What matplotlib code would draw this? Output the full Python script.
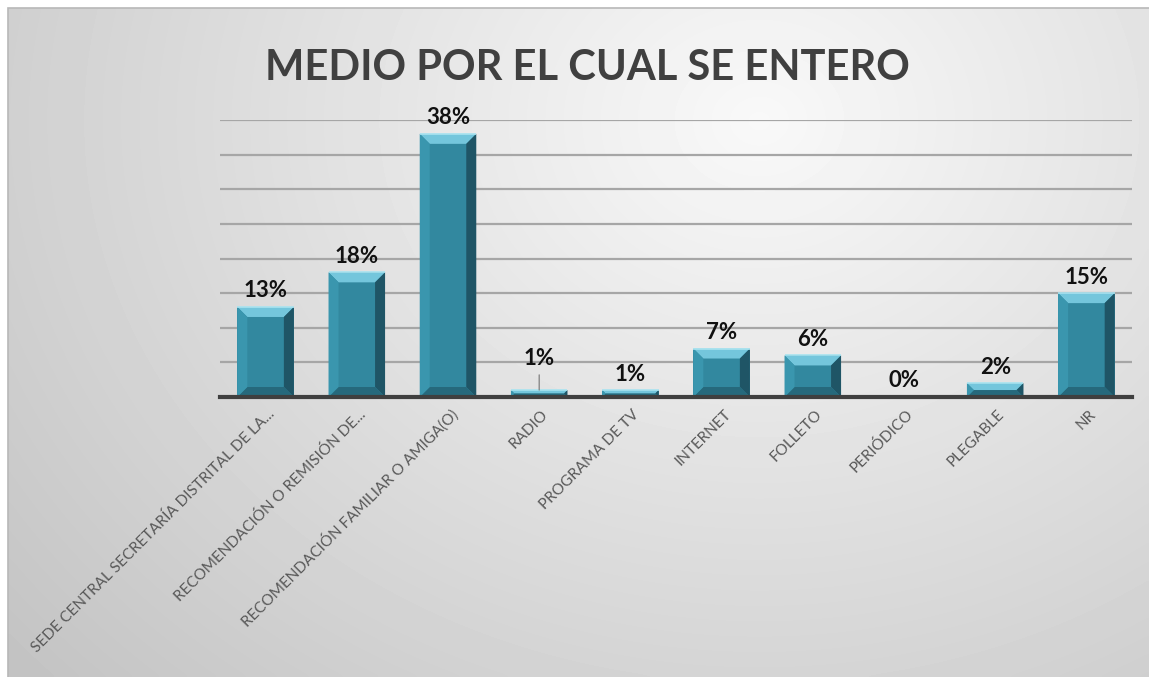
import numpy as np
import matplotlib
matplotlib.use("Agg")
import matplotlib.pyplot as plt
from matplotlib.patches import Rectangle

categories = [
    "SEDE CENTRAL SECRETARÍA DISTRITAL DE LA...",
    "RECOMENDACIÓN O REMISIÓN DE...",
    "RECOMENDACIÓN FAMILIAR O AMIGA(O)",
    "RADIO",
    "PROGRAMA DE TV",
    "INTERNET",
    "FOLLETO",
    "PERIÓDICO",
    "PLEGABLE",
    "NR",
]
values = [13, 18, 38, 1, 1, 7, 6, 0, 2, 15]
labels = ["13%", "18%", "38%", "1%", "1%", "7%", "6%", "0%", "2%", "15%"]

W, H = 1149, 677
fig = plt.figure(figsize=(W / 100, H / 100), dpi=100)
fig.patch.set_facecolor("white")

# background: soft radial grey gradient inside a thin frame
bg = fig.add_axes([8 / W, 0, 1 - 8 / W, 1 - 8 / H])
bg.set_axis_off()
yy, xx = np.mgrid[0:200, 0:340]
gx = xx / 339 * (W - 8) + 8
gy = yy / 199 * (H - 8) + 8
r = np.sqrt(((gx - 760) / 900) ** 2 + ((gy - 120) / 750) ** 2)
shade = np.clip(0.975 - 0.19 * r, 0.76, 1)
bg.imshow(shade, cmap="gray", vmin=0, vmax=1, aspect="auto",
          extent=[0, 1, 0, 1], interpolation="bicubic")
bg.set_xlim(0, 1)
bg.set_ylim(0, 1)
fig.patches.append(Rectangle((8 / W, -0.01), 1.01, 1 - 8 / H + 0.01,
                             transform=fig.transFigure, fill=False,
                             edgecolor="#b8b8b8", linewidth=1.2))

ax = fig.add_axes([220 / W, 1 - 397 / H, (1132 - 220) / W, (397 - 120) / H])
ax.patch.set_alpha(0)
n = len(categories)
x = np.arange(n)
ax.set_xlim(-0.5, n - 0.5)
ax.set_ylim(0, 40)
ax.set_yticks(np.arange(5, 45, 5))
ax.yaxis.grid(True, color="#a6a6a6", linewidth=1.6)
ax.set_axisbelow(True)
ax.tick_params(axis="y", left=False, labelleft=False)
ax.tick_params(axis="x", bottom=False, labelbottom=False)
for s in ["top", "right", "left"]:
    ax.spines[s].set_visible(False)
ax.spines["bottom"].set_color("#3f3f3f")
ax.spines["bottom"].set_linewidth(3)
ax.spines["bottom"].set_zorder(5)

# pixel scale so the bevels keep 45 degree edges
px_x = ax.bbox.width / (n)
px_y = ax.bbox.height / 40.0

bw = 0.62
face = "#32889f"
top_c = "#74c6dc"
left_c = "#3a96ae"
right_c = "#1f5566"
bot_c = "#26697c"
for xi, v in zip(x, values):
    if v <= 0:
        continue
    x0, x1 = xi - bw / 2, xi + bw / 2
    hpx = v * px_y
    b = min(10.0, hpx / 2)
    dx, dy = b / px_x, b / px_y
    ax.add_patch(Rectangle((x0, 0), bw, v, facecolor=face, edgecolor="none", zorder=3))
    ax.fill([x0, x1, x1 - dx, x0 + dx], [v, v, v - dy, v - dy], color=top_c, lw=0, zorder=4)
    ax.fill([x1, x1, x1 - dx, x1 - dx], [v, 0, dy, v - dy], color=right_c, lw=0, zorder=4)
    ax.fill([x0, x1, x1 - dx, x0 + dx], [0, 0, dy, dy], color=bot_c, lw=0, zorder=4)
    ax.fill([x0, x0, x0 + dx, x0 + dx], [v, 0, dy, v - dy], color=left_c, lw=0, zorder=4)
    ax.plot([x0, x1], [v, v], color="#a9e3f0", lw=1.2, zorder=4, solid_capstyle="butt")

# value labels; RADIO label is lifted with a leader line
for xi, v, lab, cat in zip(x, values, labels, categories):
    if cat == "RADIO":
        ax.annotate(lab, xy=(xi, v), xytext=(xi, v + 3.0), ha="center", va="bottom",
                    fontsize=16, fontweight="bold", color="#111111", family="Lato",
                    arrowprops=dict(arrowstyle="-", color="#808080", lw=0.9,
                                    shrinkA=2, shrinkB=0), zorder=6)
    else:
        ax.annotate(lab, xy=(xi, v), xytext=(0, 4), textcoords="offset points",
                    ha="center", va="bottom", fontsize=16, fontweight="bold",
                    color="#111111", family="Lato", zorder=6)

# rotated category labels
for xi, cat in zip(x, categories):
    ax.annotate(cat, xy=(xi, 0), xytext=(7, -15), textcoords="offset pixels",
                rotation=45, rotation_mode="anchor", ha="right", va="center",
                fontsize=11, color="#595959", family="Lato",
                annotation_clip=False)

fig.text(587 / W, 1 - 68 / H, "MEDIO POR EL CUAL SE ENTERO", ha="center", va="center",
         fontsize=30, fontweight="bold", color="#404040", family="Lato")

fig.savefig("out.png", dpi=100)
